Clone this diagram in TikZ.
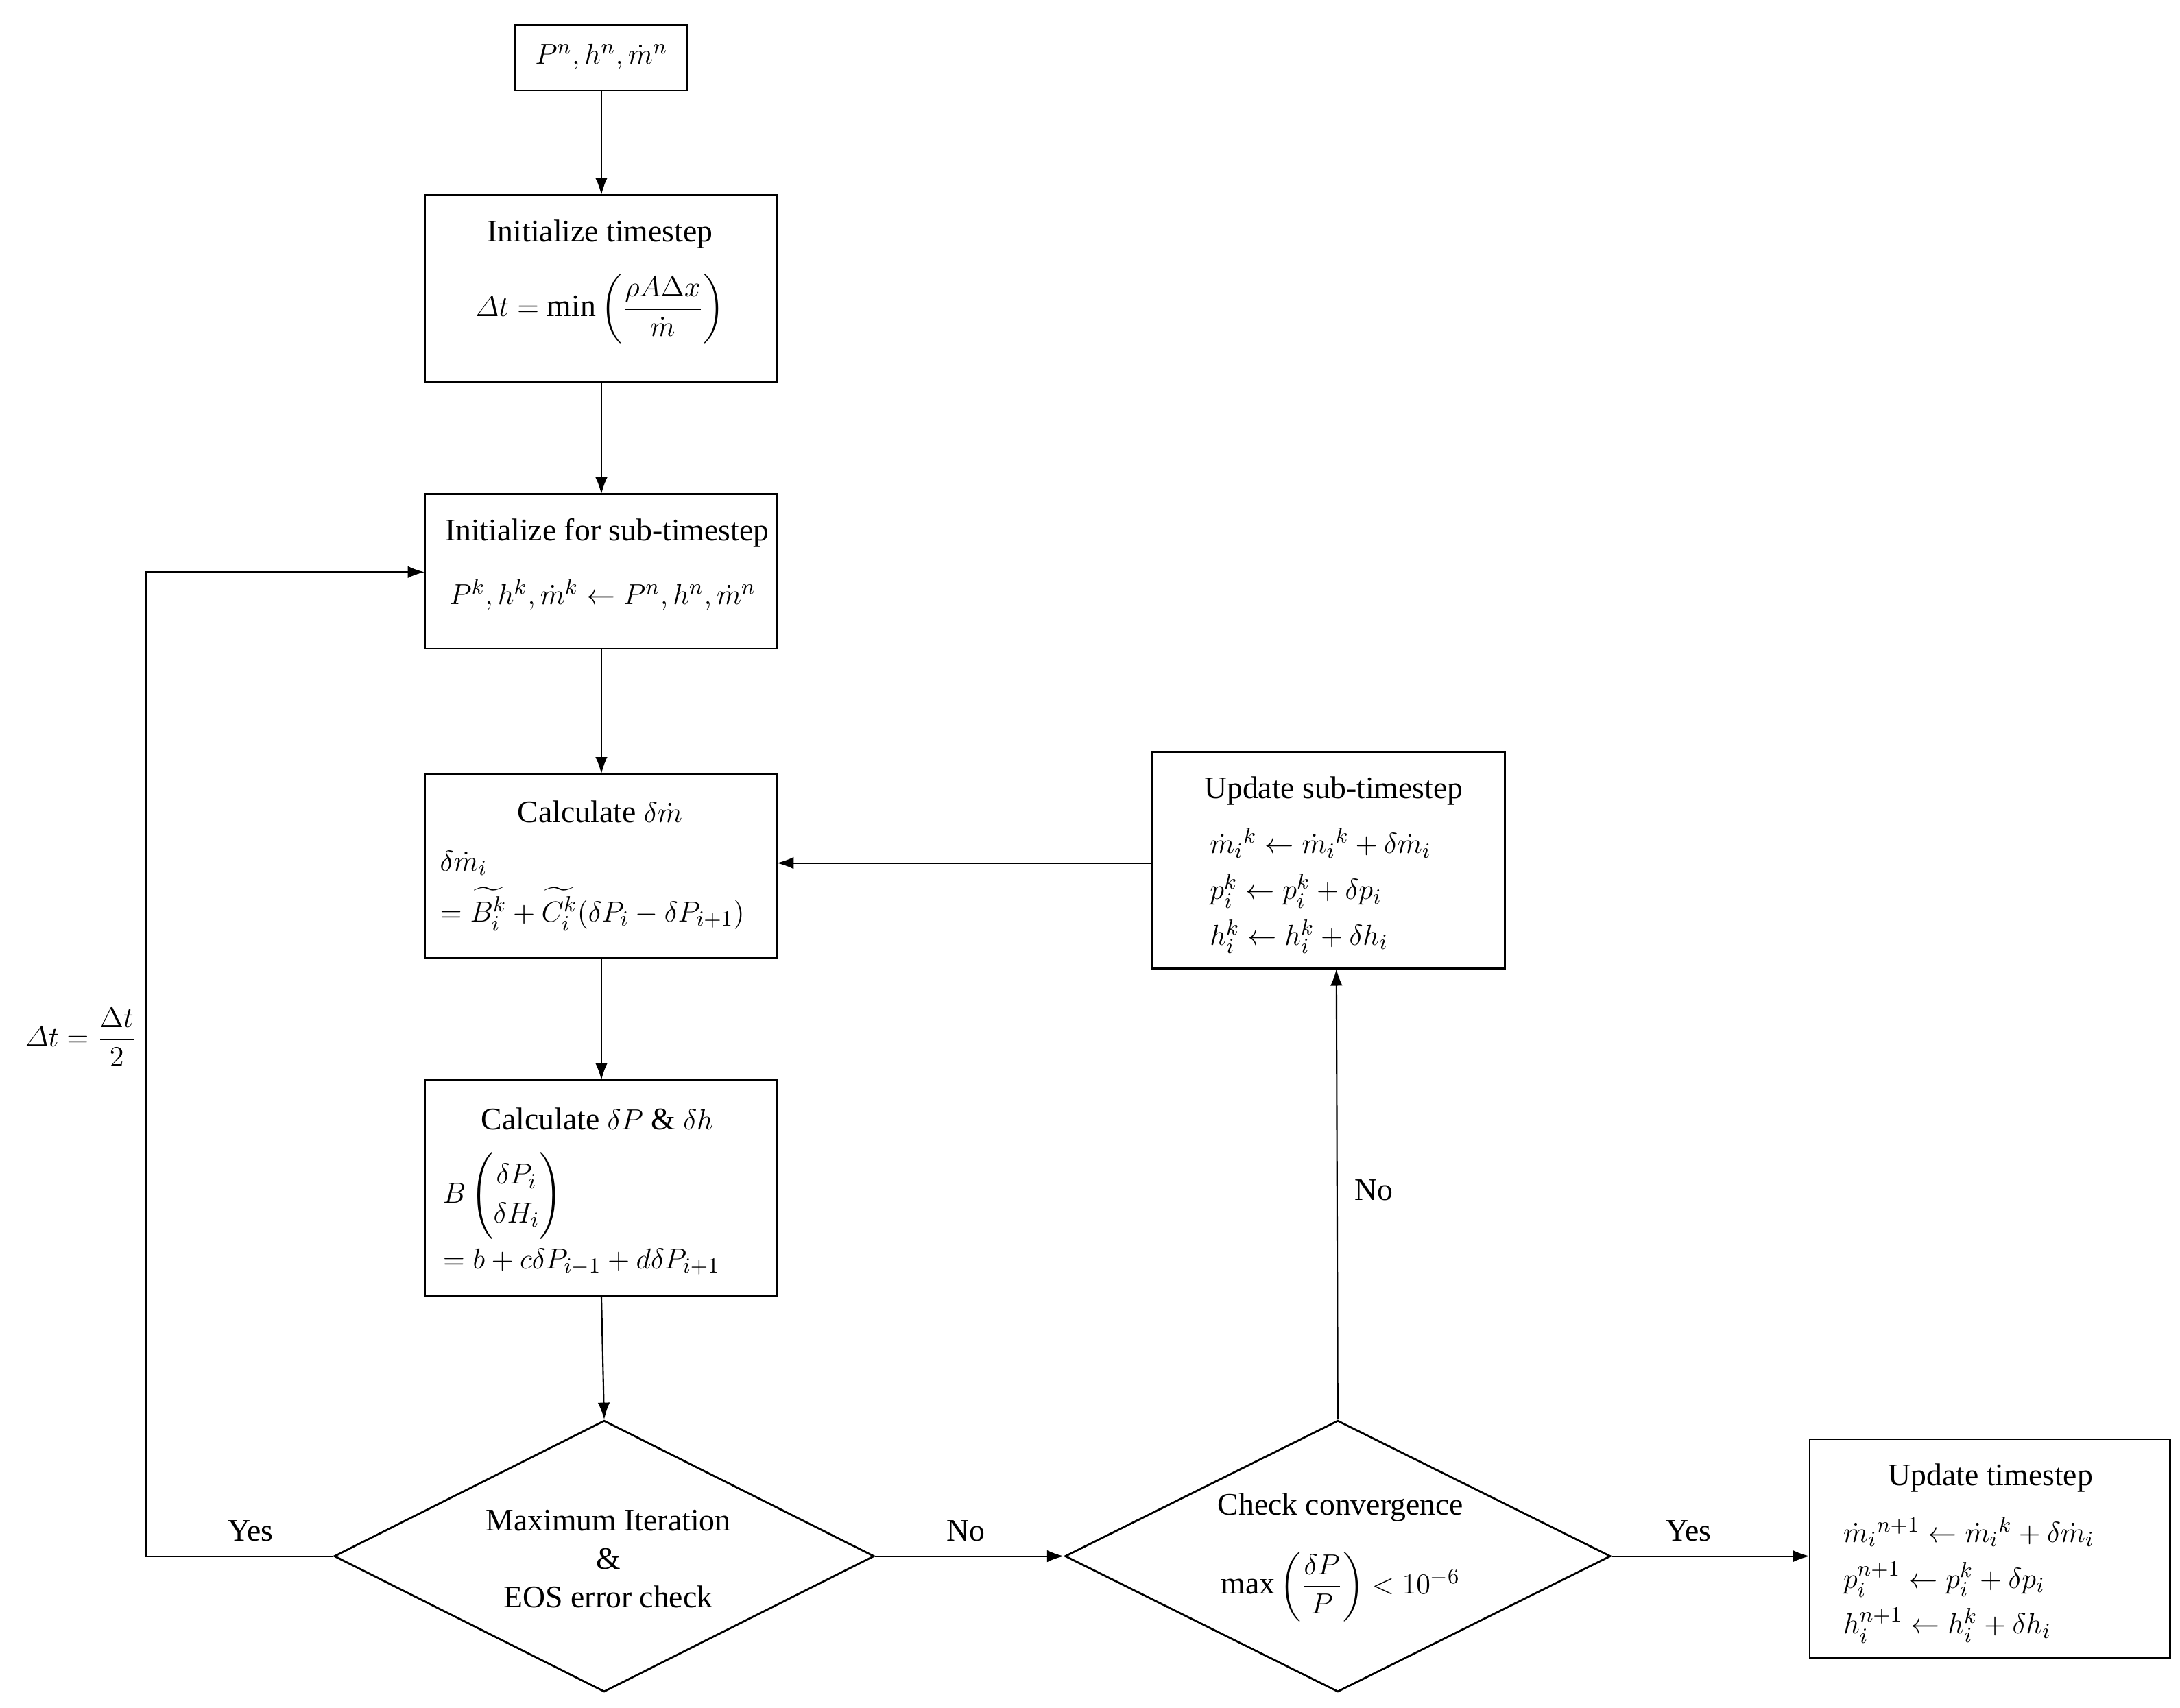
\documentclass[tikz,border=0pt]{standalone}
\usepackage{amsmath}
\usepackage{fontspec}
\setmainfont{Liberation Serif}
\usetikzlibrary{shapes.geometric,arrows.meta}
\begin{document}
\begin{tikzpicture}[x=0.0203cm,y=-0.0203cm,
  box/.style={draw,line width=0.8pt,inner sep=0pt},
  ar/.style={-{Latex[length=7pt,width=5pt]},line width=0.6pt},
  every node/.style={font=\fontsize{13}{16}\selectfont}]
\useasboundingbox (0,0) rectangle (1566,1227);
\draw[box] (370,18) rectangle (494,65); \node (top) at (432,41) {$P^n, h^n, \dot m^n$};
\coordinate (topB) at (432,65);
\draw[box] (305,140) rectangle (558,274);
\node at (431,168) {Initialize timestep};
\node at (431,222) {$\varDelta t=\min\left(\dfrac{\rho A\Delta x}{\dot m}\right)$};
\coordinate (itT) at (432,140); \coordinate (itB) at (432,274);
\draw[box] (305,355) rectangle (558,466);
\node at (436,383) {Initialize for sub-timestep};
\node at (433,427) {$P^k,h^k,\dot m^k\leftarrow P^n,h^n,\dot m^n$};
\coordinate (isT) at (432,355); \coordinate (isB) at (432,466); \coordinate (isL) at (305,411);
\draw[box] (305,556) rectangle (558,688);
\node at (431,583) {Calculate $\delta\dot m$};
\node[anchor=west,align=left] at (310,640) {$\delta\dot m_i$\\[4pt] $=\widetilde{B_i^k}+\widetilde{C_i^k}(\delta P_i-\delta P_{i+1})$};
\coordinate (cmT) at (432,556); \coordinate (cmB) at (432,688); \coordinate (cmR) at (558,620);
\draw[box] (305,776) rectangle (558,931);
\node at (429,804) {Calculate $\delta P$ \& $\delta h$};
\node[anchor=west,align=left] at (312,872) {$B\begin{pmatrix}\delta P_i\\ \delta H_i\end{pmatrix}$\\[3pt] $=b+c\delta P_{i-1}+d\delta P_{i+1}$};
\coordinate (cpT) at (432,776); \coordinate (cpB) at (432,931);
\node[box,diamond,minimum width=388*0.0203cm,minimum height=195*0.0203cm,aspect=2,inner sep=0pt] (d1) at (434,1118) {};
\node[align=center] at (437,1120) {Maximum Iteration\\\&\\EOS error check};
\node[box,diamond,minimum width=392*0.0203cm,minimum height=195*0.0203cm,aspect=2,inner sep=0pt] (d2) at (961,1118) {};
\node at (963,1083) {Check convergence};
\node at (963,1140) {$\max\left(\dfrac{\delta P}{P}\right)<10^{-6}$};
\draw[box] (828,540) rectangle (1081,696);
\node at (958,568) {Update sub-timestep};
\node[anchor=west,align=left] at (863,640) {$\dot m_i{}^k\leftarrow\dot m_i{}^k+\delta\dot m_i$\\[3pt]$p_i^k\leftarrow p_i^k+\delta p_i$\\[3pt]$h_i^k\leftarrow h_i^k+\delta h_i$};
\coordinate (usB) at (960,696); \coordinate (usL) at (828,620);
\draw[box] (1300,1034) rectangle (1559,1191);
\node at (1430,1062) {Update timestep};
\node[anchor=west,align=left] at (1318,1135) {$\dot m_i{}^{n+1}\leftarrow\dot m_i{}^k+\delta\dot m_i$\\[3pt]$p_i^{n+1}\leftarrow p_i^k+\delta p_i$\\[3pt]$h_i^{n+1}\leftarrow h_i^k+\delta h_i$};
\coordinate (utL) at (1300,1118);
\draw[ar] (topB)--(itT);
\draw[ar] (itB)--(isT);
\draw[ar] (isB)--(cmT);
\draw[ar] (cmB)--(cpT);
\draw[ar] (cpB)--(d1.north);
\coordinate (lp1) at (105,1118); \coordinate (lp2) at (105,411);
\draw[ar] (d1.west)--(lp1)--(lp2)--(isL);
\draw[ar] (d1.east)--(d2.west);
\draw[ar] (d2.north)--(usB);
\draw[ar] (usL)--(cmR);
\draw[ar] (d2.east)--(utL);
\node at (58,745) {$\varDelta t=\dfrac{\Delta t}{2}$};
\node at (180,1100) {Yes};
\node at (694,1100) {No};
\node at (987,855) {No};
\node at (1213,1100) {Yes};
\end{tikzpicture}
\end{document}
